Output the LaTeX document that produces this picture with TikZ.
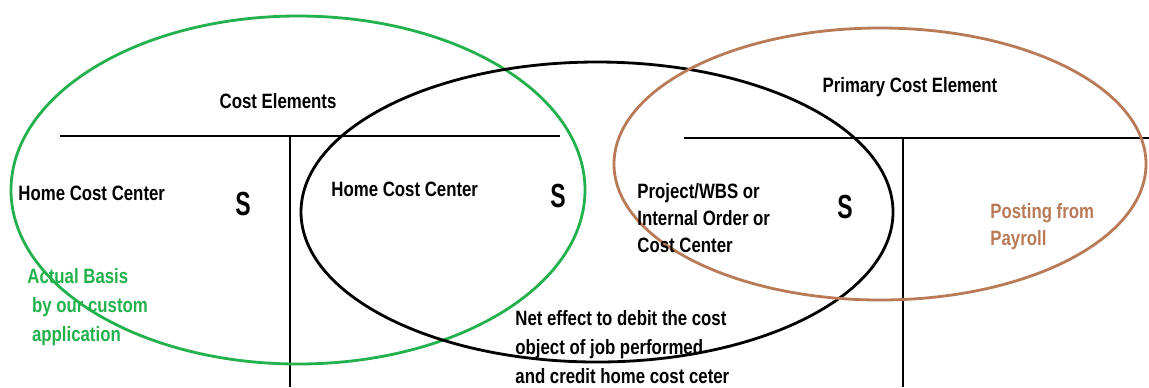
\documentclass[tikz,border=0pt]{standalone}
\usepackage{fontspec}
\setmainfont{Liberation Sans}[FakeStretch=0.81]
\definecolor{paintgreen}{RGB}{34,177,76}
\definecolor{paintbrown}{RGB}{185,122,87}
\tikzset{>=stealth}

\begin{document}
\begin{tikzpicture}[x=0.01cm, y=-0.01cm, line width=0.8pt,
  lbl/.style={font=\bfseries\fontsize{5.9}{7.7}\selectfont, inner sep=0pt, align=left},
  amt/.style={font=\bfseries\fontsize{9.5}{10}\selectfont, inner sep=0pt, xscale=0.85}]
\useasboundingbox (0,0) rectangle (1149,387);

% T accounts
\draw (60,136) coordinate (la) -- (560,136) coordinate (lb);
\draw (290,136) coordinate (lt) -- (290,387) coordinate (lf);
\draw (684,138) coordinate (ra) -- (1149,138) coordinate (rb);
\draw (903,138) coordinate (rt) -- (903,387) coordinate (rf);

% circled areas
\draw[paintgreen] (298,190) ellipse [x radius=287, y radius=174];
\draw (597,212) ellipse [x radius=296, y radius=150];
\draw[paintbrown] (880,164) ellipse [x radius=266, y radius=136];

\node[lbl] (ce) at (278,101) {Cost Elements};
\node[lbl] (pce) at (910,87) {Primary Cost Element};

\node[lbl, anchor=west] (hcc1) at (17,193) {Home Cost Center};
\node[amt] (s1) at (243,204) {S};
\node[lbl, anchor=west] (hcc2) at (330,189) {Home Cost Center};
\node[amt] (s2) at (558,196) {S};

\node[lbl, anchor=west] (obj) at (636,218) {Project/WBS or\\Internal Order or\\Cost Center};
\node[amt] (s3) at (845,207) {S};

\node[lbl, anchor=west, text=paintbrown] (pay) at (989,227) {Posting from\\Payroll};
\node[lbl, anchor=west, text=paintgreen, font=\bfseries\fontsize{5.9}{8.3}\selectfont] (act) at (26,307) {Actual Basis\\ \ by our custom\\ \ application};
\node[lbl, anchor=west, font=\bfseries\fontsize{5.9}{8.3}\selectfont] (net) at (514,347) {Net effect to debit the cost\\object of job performed\\and credit home cost ceter};
\end{tikzpicture}
\end{document}
